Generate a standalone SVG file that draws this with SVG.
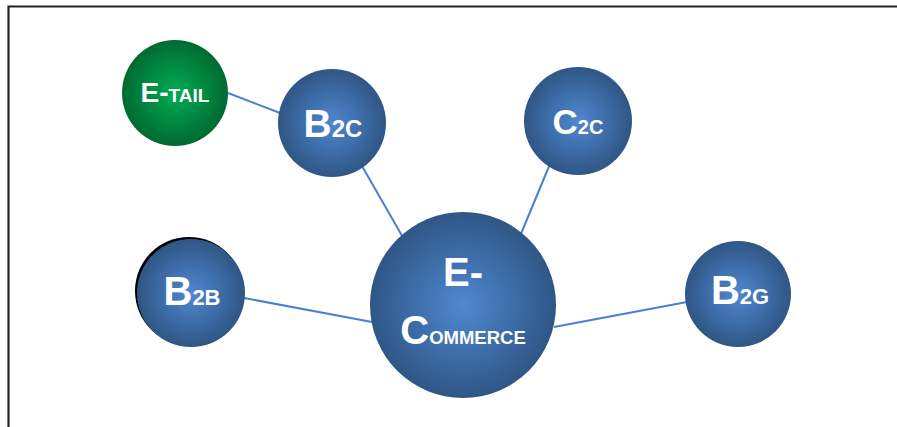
<svg xmlns="http://www.w3.org/2000/svg" width="897" height="427" viewBox="0 0 897 427">
<defs>
<radialGradient id="blue" cx="50%" cy="50%" r="50%">
<stop offset="0" stop-color="#4f88d2"/>
<stop offset="1" stop-color="#2f5685"/>
</radialGradient>
<radialGradient id="green" cx="50%" cy="50%" r="50%">
<stop offset="0" stop-color="#00ad52"/>
<stop offset="1" stop-color="#006a32"/>
</radialGradient>
<style>
.t{font-family:"Liberation Sans",Arial,sans-serif;font-weight:bold;fill:#ffffff;text-anchor:middle}
.c{stroke:#4a80d2;stroke-width:2;fill:none}
</style>
</defs>
<rect width="897" height="427" fill="#ffffff"/>
<path d="M8.5,427 V6.5 H897" fill="none" stroke="#222" stroke-width="2.2"/>
<g id="connectors">
<line class="c" x1="228" y1="93" x2="280" y2="113"/>
<line class="c" x1="362" y1="166" x2="405" y2="241"/>
<line class="c" x1="550" y1="164" x2="518" y2="241"/>
<line class="c" x1="244" y1="298" x2="372" y2="322"/>
<line class="c" x1="687" y1="302" x2="554" y2="327"/>
</g>
<g id="etail">
<circle cx="175" cy="93" r="53" fill="url(#green)"/>
<text class="t" x="175" y="102"><tspan font-size="28">E-</tspan><tspan font-size="19">TAIL</tspan></text>
</g>
<g id="b2c">
<circle cx="332" cy="123" r="54" fill="url(#blue)"/>
<text class="t" x="333" y="137"><tspan font-size="39">B</tspan><tspan font-size="24">2C</tspan></text>
</g>
<g id="c2c">
<circle cx="578" cy="121" r="54" fill="url(#blue)"/>
<text class="t" x="578" y="134"><tspan font-size="35">C</tspan><tspan font-size="20">2C</tspan></text>
</g>
<g id="b2b">
<circle cx="189" cy="291" r="54" fill="#000"/>
<circle cx="191" cy="293" r="54" fill="url(#blue)"/>
<text class="t" x="192" y="305"><tspan font-size="40">B</tspan><tspan font-size="22">2B</tspan></text>
</g>
<g id="ecommerce">
<circle cx="463" cy="305" r="93" fill="url(#blue)"/>
<text class="t" x="463" y="286" font-size="40">E-</text>
<text class="t" x="463" y="344"><tspan font-size="40">C</tspan><tspan font-size="18.5">OMMERCE</tspan></text>
</g>
<g id="b2g">
<circle cx="738" cy="294" r="53" fill="url(#blue)"/>
<text class="t" x="740" y="304"><tspan font-size="40">B</tspan><tspan font-size="22">2G</tspan></text>
</g>
</svg>
